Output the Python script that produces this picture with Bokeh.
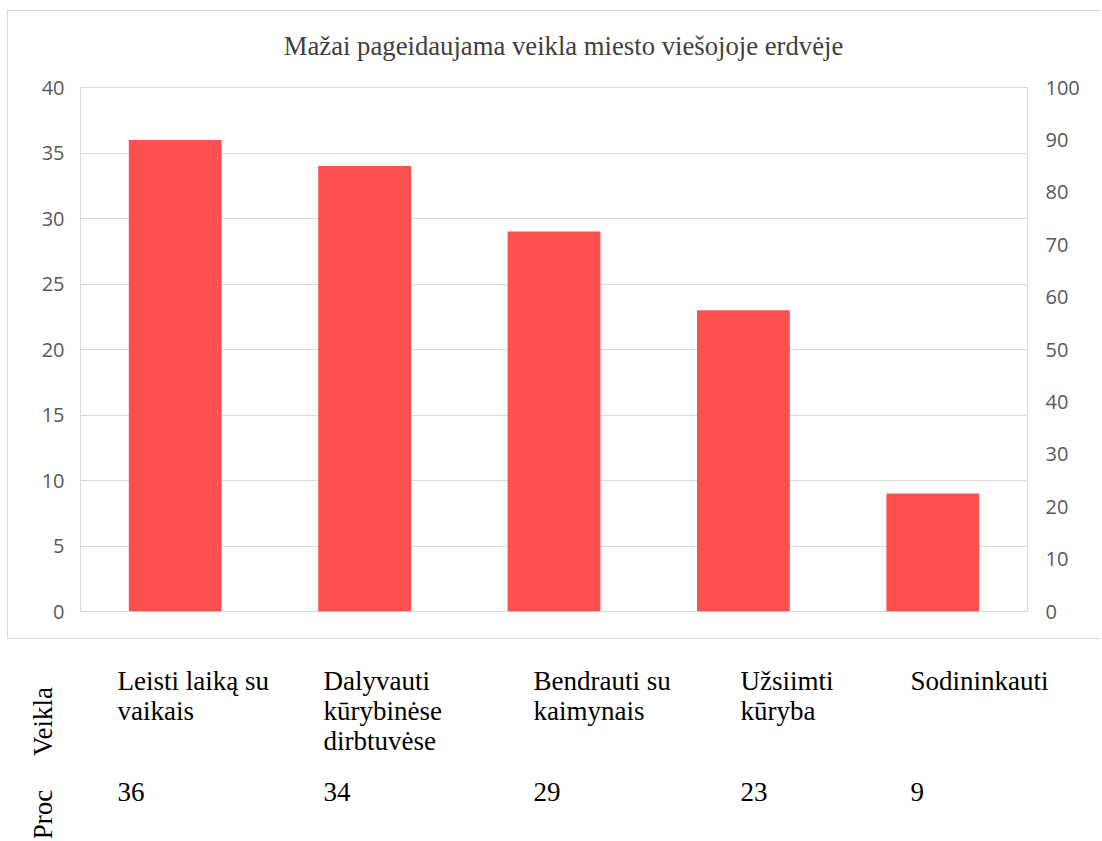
from bokeh.plotting import figure
from bokeh.models import Range1d, LinearAxis, FixedTicker, ColumnDataSource, FactorRange
from bokeh.core.properties import value
from bokeh.embed import file_html
from bokeh.resources import INLINE
import math

# ---- data ----
categories = ["Leisti laiką su vaikais", "Dalyvauti kūrybinėse dirbtuvėse",
              "Bendrauti su kaimynais", "Užsiimti kūryba", "Sodininkauti"]
values = [36, 34, 29, 23, 9]
table_labels = ["Leisti laiką su\nvaikais", "Dalyvauti\nkūrybinėse\ndirbtuvėse",
                "Bendrauti su\nkaimynais", "Užsiimti\nkūryba", "Sodininkauti"]
left_ticks = [0, 5, 10, 15, 20, 25, 30, 35, 40]
right_ticks = [0, 10, 20, 30, 40, 50, 60, 70, 80, 90, 100]
title_text = "Mažai pageidaujama veikla miesto viešojoje erdvėje"
row_names = ["Veikla", "Proc"]

W = 1093
GRAY = "#d9d9d9"

# ---- title strip (top part of the chart box) ----
HT = 65
tf = figure(width=W, height=HT, x_range=Range1d(0, W), y_range=Range1d(HT, 0),
            output_backend="svg", toolbar_location=None,
            min_border=0, min_border_left=0, min_border_right=0,
            min_border_top=0, min_border_bottom=0,
            styles={"margin-left": "7px", "margin-top": "10px",
                    "border-left": f"1px solid {GRAY}", "border-top": f"1px solid {GRAY}"})
tf.axis.visible = False
tf.grid.visible = False
tf.outline_line_color = None
tf.text(x=[555], y=[34], text=[title_text], text_font=value("Liberation Serif"),
        text_font_size="26.7px", text_color="#404040", text_align="center",
        text_baseline="middle")

# ---- chart ----
H1 = 564
p = figure(width=W, height=H1, x_range=FactorRange(*categories), y_range=Range1d(0, 40),
           output_backend="svg", toolbar_location=None,
           min_border_left=72, min_border_right=74, min_border_top=12, min_border_bottom=28,
           styles={"margin-left": "7px",
                   "border-left": f"1px solid {GRAY}", "border-bottom": f"1px solid {GRAY}"})
p.extra_y_ranges = {"right": Range1d(0, 100)}

src = ColumnDataSource(dict(cat=categories, val=values))
p.vbar(x="cat", top="val", width=0.49, source=src, fill_color="#FF5050", line_color=None)

p.xaxis.visible = False
p.xgrid.visible = False

lt = FixedTicker(ticks=left_ticks)
ax = p.yaxis[0]
ax.ticker = lt
p.ygrid.ticker = lt
p.ygrid.grid_line_color = GRAY
p.ygrid.grid_line_width = 1

rax = LinearAxis(y_range_name="right", ticker=FixedTicker(ticks=right_ticks))
p.add_layout(rax, "right")

for a in (ax, rax):
    a.axis_line_color = None
    a.major_tick_line_color = None
    a.minor_tick_line_color = None
    a.major_tick_out = 0
    a.major_tick_in = 0
    a.major_label_text_font = "Open Sans"
    a.major_label_text_font_size = "20px"
    a.major_label_text_color = "#595959"
ax.major_label_standoff = 16
rax.major_label_standoff = 18

p.outline_line_color = GRAY
p.outline_line_width = 1
p.background_fill_color = "white"
p.border_fill_color = "white"

# ---- table below ----
H2 = 199
TW = 1100
t = figure(width=TW, height=H2, x_range=Range1d(0, TW), y_range=Range1d(H2, 0),
           output_backend="svg", toolbar_location=None,
           min_border=0, min_border_left=0, min_border_right=0,
           min_border_top=0, min_border_bottom=0)
t.axis.visible = False
t.grid.visible = False
t.outline_line_color = None

col_x = [117, 323, 533, 740, 910]
tsrc = ColumnDataSource(dict(x=col_x, lab=table_labels, val=[str(v) for v in values]))
t.text(x="x", y=26, text="lab", source=tsrc, text_font=value("Liberation Serif"),
       text_font_size="27px", text_color="black", text_baseline="top", text_align="left",
       text_line_height=1.0)
t.text(x="x", y=143, text="val", source=tsrc, text_font=value("Liberation Serif"),
       text_font_size="27px", text_color="black", text_baseline="top", text_align="left")
rsrc = ColumnDataSource(dict(x=[42, 42], y=[82, 175], t=row_names))
t.text(x="x", y="y", text="t", source=rsrc, angle=math.pi / 2, text_font=value("Liberation Serif"),
       text_font_size="27px", text_color="black", text_baseline="middle", text_align="center")

open("out.html", "w").write(file_html([tf, p, t], INLINE))
